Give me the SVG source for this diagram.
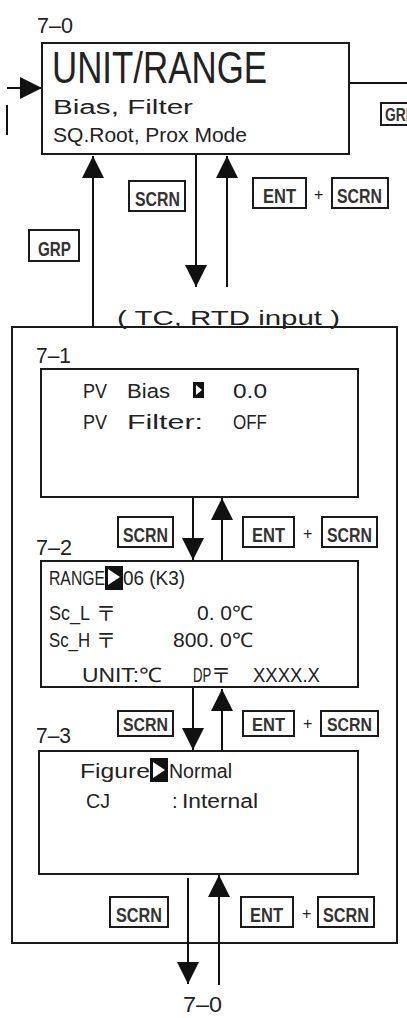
<svg xmlns="http://www.w3.org/2000/svg" width="407" height="1018" viewBox="0 0 407 1018">
<defs>
<marker id="ah" markerWidth="22" markerHeight="22" refX="22" refY="11" orient="auto" markerUnits="userSpaceOnUse"><path d="M0,0 L22,11 L0,22 z" fill="#111"/></marker>
<style>
.box{fill:#fff;stroke:#1a1a1a;stroke-width:2}
.frame{fill:none;stroke:#1a1a1a;stroke-width:2}
.key{fill:#fff;stroke:#1a1a1a;stroke-width:2}
.ln{stroke:#111;stroke-width:2;fill:none}
text{font-family:"Liberation Sans",Arial,sans-serif;fill:#222}
.kt{font-size:21px;font-weight:bold;fill:#333}
.kts{font-size:19px;font-weight:bold;fill:#333}
.lbl{font-size:22px}
.t{font-size:20px}
.g{font-family:"Noto Sans CJK JP","Liberation Sans",sans-serif;font-size:20px}
.mk{fill:#111}
.tri{fill:#fff}
</style>
</defs>

<g id="group-box">
<rect class="frame" x="12" y="327" width="385" height="616"/>
</g>

<g id="connectors">
<line class="ln" x1="7" y1="88" x2="42" y2="88" marker-end="url(#ah)"/>
<line class="ln" x1="7" y1="105" x2="7" y2="135"/>
<line class="ln" x1="349" y1="83" x2="407" y2="83"/>
<line class="ln" x1="93" y1="328" x2="93" y2="156" marker-end="url(#ah)"/>
<line class="ln" x1="196" y1="155" x2="196" y2="287" marker-end="url(#ah)"/>
<line class="ln" x1="227" y1="287" x2="227" y2="156" marker-end="url(#ah)"/>
<line class="ln" x1="193" y1="497" x2="193" y2="560" marker-end="url(#ah)"/>
<line class="ln" x1="222" y1="561" x2="222" y2="498" marker-end="url(#ah)"/>
<line class="ln" x1="193" y1="687" x2="193" y2="750" marker-end="url(#ah)"/>
<line class="ln" x1="222" y1="751" x2="222" y2="689" marker-end="url(#ah)"/>
<line class="ln" x1="188" y1="878" x2="188" y2="984" marker-end="url(#ah)"/>
<line class="ln" x1="219" y1="985" x2="219" y2="875" marker-end="url(#ah)"/>
</g>

<g id="node-7-0">
<text class="lbl" x="37" y="33" textLength="36" lengthAdjust="spacingAndGlyphs">7–0</text>
<rect class="box" x="42" y="43" width="307" height="111"/>
<text x="52" y="83" font-size="45" textLength="215" lengthAdjust="spacingAndGlyphs">UNIT/RANGE</text>
<text class="t" x="53" y="114" textLength="140" lengthAdjust="spacingAndGlyphs">Bias, Filter</text>
<text class="t" x="53" y="142" textLength="194" lengthAdjust="spacingAndGlyphs">SQ.Root, Prox Mode</text>
</g>

<g id="key-grp-right">
<rect class="key" x="381" y="103" width="40" height="22"/>
<text class="kts" x="385" y="121" textLength="30" lengthAdjust="spacingAndGlyphs">GRP</text>
</g>

<g id="keys-top">
<rect class="key" x="29" y="230" width="50" height="31"/>
<text class="kt" x="38" y="256" textLength="33" lengthAdjust="spacingAndGlyphs">GRP</text>
<rect class="key" x="129" y="181" width="56" height="30"/>
<text class="kt" x="135" y="206" textLength="45" lengthAdjust="spacingAndGlyphs">SCRN</text>
<rect class="key" x="253" y="178" width="53" height="30"/>
<text class="kt" x="263" y="203" textLength="33" lengthAdjust="spacingAndGlyphs">ENT</text>
<text x="314" y="200" font-size="16">+</text>
<rect class="key" x="332" y="178" width="56" height="30"/>
<text class="kt" x="337" y="203" textLength="45" lengthAdjust="spacingAndGlyphs">SCRN</text>
</g>

<text class="t" x="117" y="325" textLength="223" lengthAdjust="spacingAndGlyphs" xml:space="preserve">( TC, RTD input )</text>

<g id="node-7-1">
<text class="lbl" x="36" y="363" textLength="35" lengthAdjust="spacingAndGlyphs">7–1</text>
<rect class="box" x="41" y="369" width="317" height="128"/>
<text class="t" x="83" y="398" textLength="24" lengthAdjust="spacingAndGlyphs">PV</text>
<text class="t" x="127" y="398" textLength="43" lengthAdjust="spacingAndGlyphs">Bias</text>
<rect class="mk" x="193" y="382" width="11" height="16"/>
<path class="tri" d="M196,385 L202,390 L196,395 z"/>
<text class="t" x="233" y="398" textLength="34" lengthAdjust="spacingAndGlyphs">0.0</text>
<text class="t" x="83" y="429" textLength="24" lengthAdjust="spacingAndGlyphs">PV</text>
<text class="t" x="127" y="429" textLength="76" lengthAdjust="spacingAndGlyphs">Filter:</text>
<text class="t" x="233" y="429" textLength="34" lengthAdjust="spacingAndGlyphs">OFF</text>
</g>

<g id="keys-1-2">
<rect class="key" x="118" y="517" width="55" height="30"/>
<text class="kt" x="123" y="542" textLength="45" lengthAdjust="spacingAndGlyphs">SCRN</text>
<rect class="key" x="243" y="517" width="51" height="30"/>
<text class="kt" x="252" y="542" textLength="33" lengthAdjust="spacingAndGlyphs">ENT</text>
<text x="303" y="539" font-size="16">+</text>
<rect class="key" x="322" y="517" width="55" height="30"/>
<text class="kt" x="327" y="542" textLength="45" lengthAdjust="spacingAndGlyphs">SCRN</text>
</g>

<g id="node-7-2">
<text class="lbl" x="36" y="555" textLength="36" lengthAdjust="spacingAndGlyphs">7–2</text>
<rect class="box" x="41" y="561" width="317" height="126"/>
<text class="t" x="49" y="585" font-size="19" textLength="56" lengthAdjust="spacingAndGlyphs">RANGE</text>
<rect class="mk" x="105" y="566" width="18" height="24"/>
<path class="tri" d="M108,569 L120,577 L108,585 z"/>
<text class="t" x="123" y="585" font-size="19" textLength="62" lengthAdjust="spacingAndGlyphs">06 (K3)</text>
<text class="t" x="49" y="620" font-size="19" textLength="41" lengthAdjust="spacingAndGlyphs">Sc_L</text>
<text class="g" x="96" y="621">〒</text>
<text class="t" x="197" y="620" font-size="19" textLength="56" lengthAdjust="spacingAndGlyphs">0. 0℃</text>
<text class="t" x="49" y="647" font-size="19" textLength="41" lengthAdjust="spacingAndGlyphs">Sc_H</text>
<text class="g" x="96" y="648">〒</text>
<text class="t" x="173" y="647" font-size="19" textLength="80" lengthAdjust="spacingAndGlyphs">800. 0℃</text>
<text class="t" x="82" y="682" font-size="19" textLength="80" lengthAdjust="spacingAndGlyphs">UNIT:℃</text>
<text class="t" font-size="19" transform="translate(193,682) scale(0.66,1)">DP</text>
<text class="g" x="211" y="683">〒</text>
<text class="t" x="253" y="682" font-size="19" textLength="67" lengthAdjust="spacingAndGlyphs">XXXX.X</text>
</g>

<g id="keys-2-3">
<rect class="key" x="118" y="711" width="55" height="25"/>
<text class="kts" x="123" y="731" textLength="45" lengthAdjust="spacingAndGlyphs">SCRN</text>
<rect class="key" x="243" y="711" width="51" height="25"/>
<text class="kts" x="252" y="731" textLength="33" lengthAdjust="spacingAndGlyphs">ENT</text>
<text x="303" y="729" font-size="16">+</text>
<rect class="key" x="321" y="711" width="57" height="25"/>
<text class="kts" x="327" y="731" textLength="45" lengthAdjust="spacingAndGlyphs">SCRN</text>
</g>

<g id="node-7-3">
<text class="lbl" x="36" y="743" textLength="35" lengthAdjust="spacingAndGlyphs">7–3</text>
<rect class="box" x="39" y="751" width="319" height="123"/>
<text class="t" x="80" y="778" textLength="70" lengthAdjust="spacingAndGlyphs">Figure</text>
<rect class="mk" x="150" y="758" width="18" height="24"/>
<path class="tri" d="M153,762 L165,770 L153,778 z"/>
<text class="t" x="169" y="778" textLength="63" lengthAdjust="spacingAndGlyphs">Normal</text>
<text class="t" x="86" y="808" textLength="24" lengthAdjust="spacingAndGlyphs">CJ</text>
<text class="t" x="172" y="808">:</text>
<text class="t" x="182" y="808" textLength="76" lengthAdjust="spacingAndGlyphs">Internal</text>
</g>

<g id="keys-bottom">
<rect class="key" x="110" y="897" width="58" height="30"/>
<text class="kt" x="116" y="922" textLength="46" lengthAdjust="spacingAndGlyphs">SCRN</text>
<rect class="key" x="241" y="897" width="52" height="30"/>
<text class="kt" x="250" y="922" textLength="33" lengthAdjust="spacingAndGlyphs">ENT</text>
<text x="302" y="919" font-size="16">+</text>
<rect class="key" x="318" y="897" width="56" height="30"/>
<text class="kt" x="323" y="922" textLength="46" lengthAdjust="spacingAndGlyphs">SCRN</text>
</g>

<g id="label-bottom">
<text class="lbl" x="183" y="1012" font-size="20" textLength="39" lengthAdjust="spacingAndGlyphs">7–0</text>
</g>
</svg>
